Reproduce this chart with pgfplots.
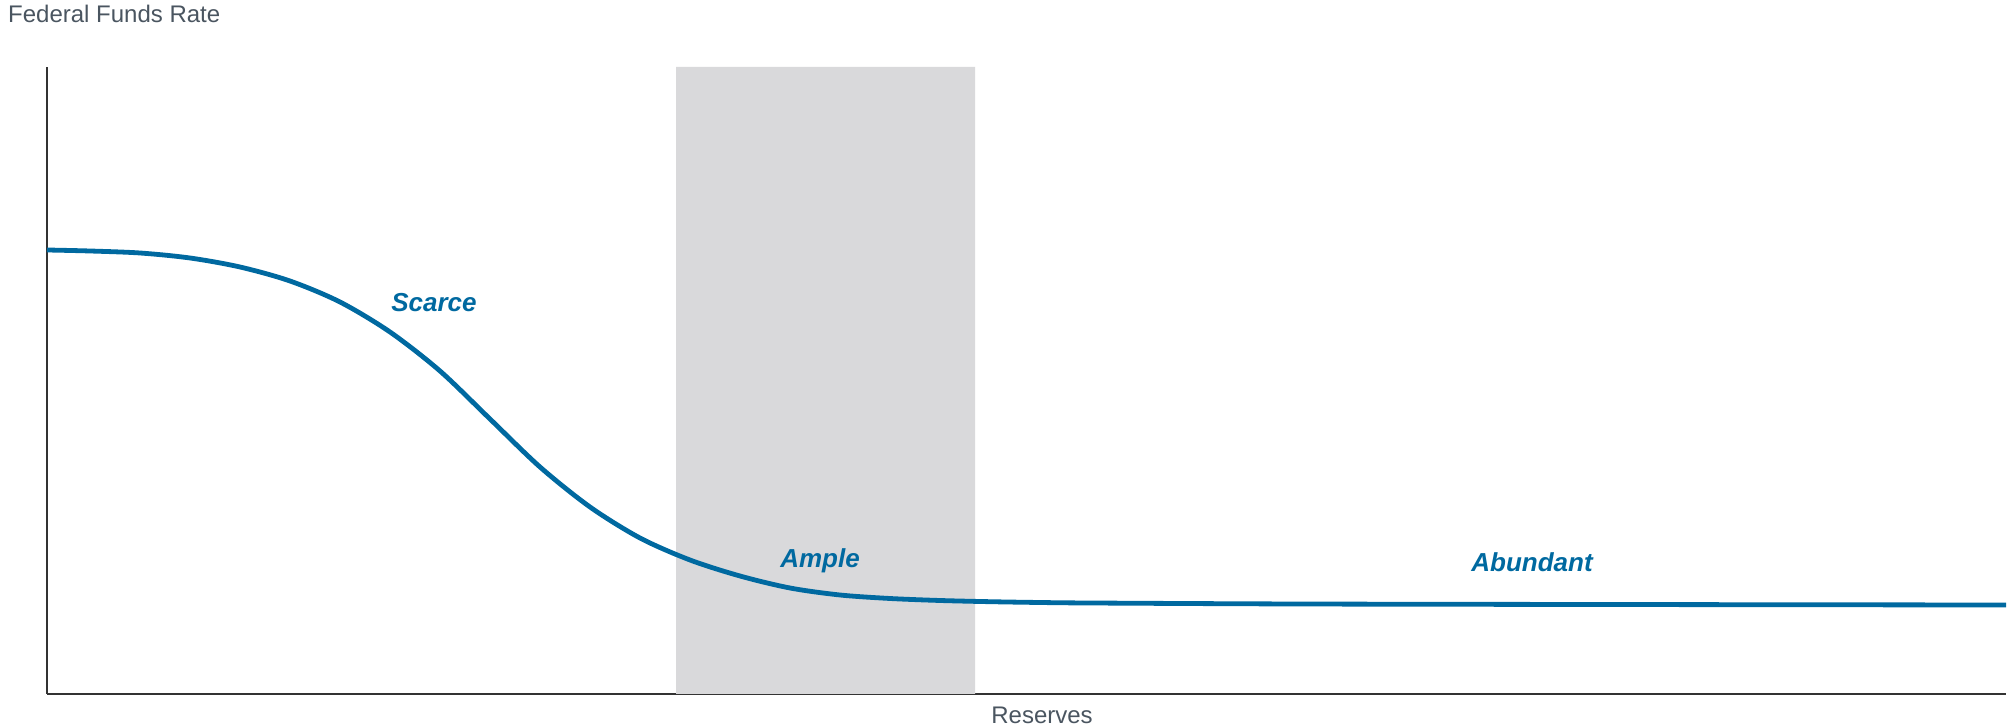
\documentclass[border=0pt]{standalone}
\usepackage{pgfplots}
\pgfplotsset{compat=1.18}
\usepackage{fontspec}
\setmainfont{Liberation Sans}
\definecolor{fedblue}{RGB}{0,105,160}
\definecolor{shade}{RGB}{217,217,219}
\definecolor{txtgray}{RGB}{74,85,96}
\definecolor{axgray}{RGB}{51,51,51}
\begin{document}
\begin{tikzpicture}[x=1bp,y=1bp]
\begin{axis}[
  x=1bp, y=1bp,
  xmin=47, xmax=2006, ymin=0, ymax=627,
  axis x line=bottom, axis y line=left,
  axis line style={axgray, line width=1.6bp, -},
  xtick=\empty, ytick=\empty,
  clip=false,
  anchor=origin, at={(47bp,0bp)},
]
\addplot[fill=shade, draw=none] coordinates {(676,0)(975,0)(975,627)(676,627)} \closedcycle;
\addplot[fedblue, line width=4.8bp, smooth, tension=0.5] coordinates {
(47,444)(90,443)(140,441)(190,436)(240,427)(290,413)(340,392)(390,362)(440,323)(490,275)(540,227)(590,187)(640,156)(690,134)(740,118)(790,106)(840,99)(890,95.5)(940,93.5)(990,92.3)(1040,91.5)(1090,91)(1300,90)(1600,89.5)(2006,89)};
\node[anchor=base, font=\fontsize{26bp}{30bp}\selectfont\bfseries\itshape, text=fedblue, inner sep=0pt] at (434,382) {Scarce};
\node[anchor=base, font=\fontsize{26bp}{30bp}\selectfont\bfseries\itshape, text=fedblue, inner sep=0pt] at (820,126) {Ample};
\node[anchor=base, font=\fontsize{26bp}{30bp}\selectfont\bfseries\itshape, text=fedblue, inner sep=0pt] at (1532,122) {Abundant};
\node[anchor=base west, font=\fontsize{24bp}{28bp}\selectfont, text=txtgray, inner sep=0pt] at (8,671) {Federal Funds Rate};
\node[anchor=base, font=\fontsize{24bp}{28bp}\selectfont, text=txtgray, inner sep=0pt] at (1042,-30) {Reserves};
\end{axis}
\useasboundingbox (0,-34) rectangle (2010,694);
\end{tikzpicture}
\end{document}
